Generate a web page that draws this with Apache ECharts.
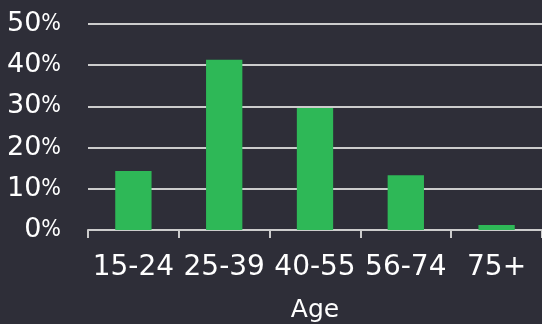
<!DOCTYPE html>
<html lang="en">
<head>
    <meta charset="UTF-8">
    <style>
        html, body { margin: 0; padding: 0; background: #2e2e38; }
        #main { width: 542px; height: 324px; }
    </style>
    <script type="text/javascript" src="https://cdn.jsdelivr.net/npm/echarts@6/dist/echarts.min.js"></script>
</head>
<body>
<div id="main"></div>
<script type="text/javascript">
    var ageGroups = ["15-24", "25-39", "40-55", "56-74", "75+"];
    var share = [14.3, 41.3, 29.6, 13.3, 1.2];

    var chart = echarts.init(document.getElementById('main'));
    var option = {
        backgroundColor: '#2e2e38',
        animation: false,
        grid: { left: 88, right: 0, top: 24, bottom: 94, outerBoundsMode: 'none', containLabel: false },
        xAxis: {
            type: 'category',
            data: ageGroups,
            name: 'Age',
            nameLocation: 'middle',
            nameGap: 68,
            nameTextStyle: { color: '#ffffff', fontSize: 25, fontFamily: 'DejaVu Sans' },
            axisLine: { lineStyle: { color: '#cccccc', width: 2 } },
            axisTick: { show: true, interval: 0, length: 8, lineStyle: { color: '#cccccc', width: 2 } },
            axisLabel: {
                color: '#ffffff', fontSize: 28, fontFamily: 'DejaVu Sans', margin: 24,
                interval: 0, hideOverlap: false
            }
        },
        yAxis: {
            type: 'value',
            min: 0,
            max: 50,
            interval: 10,
            axisLine: { show: false },
            axisTick: { show: false },
            splitLine: { lineStyle: { color: '#cccccc', width: 2 } },
            axisLabel: {
                color: '#ffffff', fontSize: 27, fontFamily: 'DejaVu Sans', margin: 27,
                formatter: '{value}{p|%}',
                rich: {
                    p: { color: '#ffffff', fontSize: 23, fontFamily: 'DejaVu Sans Condensed' }
                }
            }
        },
        series: [{
            type: 'bar',
            data: share,
            barWidth: '40%',
            itemStyle: { color: '#2eb857' }
        }]
    };
    chart.setOption(option);
</script>
</body>
</html>
